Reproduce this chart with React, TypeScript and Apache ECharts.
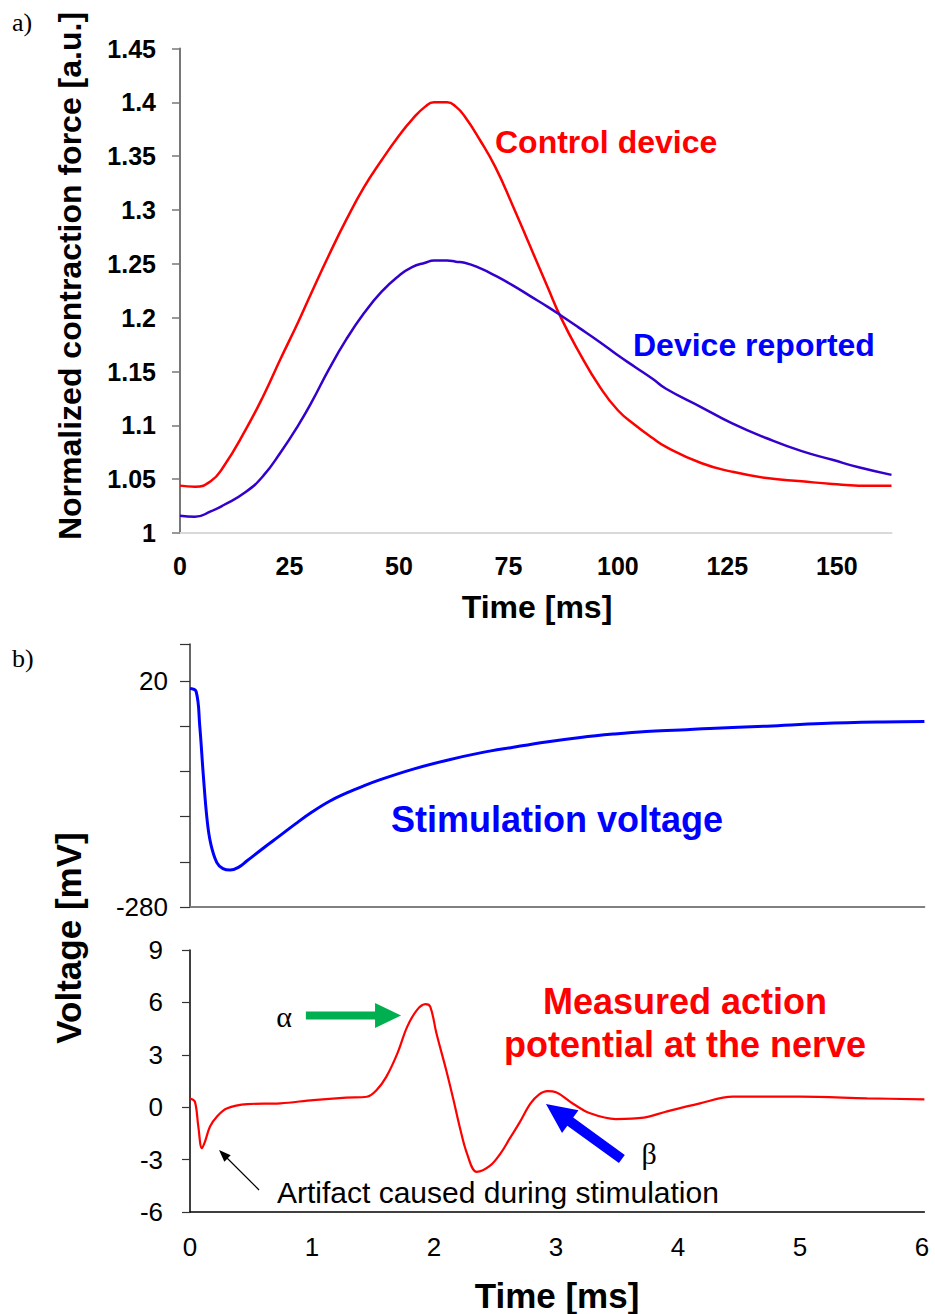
import React, { useEffect, useRef } from "react";
import * as echarts from "echarts";

// ---------- Panel a: contraction force ----------
const forceTime = [0, 3.4, 7, 10, 15, 19, 23, 27, 30, 34, 38, 42, 46, 50, 53, 56, 58, 61, 63, 65, 68.5, 72, 76, 80, 84, 87, 91, 96, 100, 104, 108, 111, 119, 126, 134, 142, 149, 155, 162.5];
const controlForce = [1.044, 1.043, 1.048, 1.062, 1.096, 1.127, 1.162, 1.196, 1.223, 1.258, 1.291, 1.321, 1.346, 1.369, 1.384, 1.396, 1.4, 1.4, 1.396, 1.387, 1.365, 1.34, 1.304, 1.266, 1.228, 1.2, 1.169, 1.135, 1.114, 1.1, 1.088, 1.08, 1.065, 1.057, 1.051, 1.048, 1.0455, 1.044, 1.044];
const deviceForce = [1.016, 1.015, 1.02, 1.026, 1.038, 1.053, 1.075, 1.1, 1.121, 1.152, 1.18, 1.204, 1.224, 1.239, 1.247, 1.251, 1.253, 1.253, 1.252, 1.251, 1.246, 1.239, 1.23, 1.22, 1.21, 1.202, 1.191, 1.177, 1.165, 1.154, 1.143, 1.134, 1.117, 1.102, 1.088, 1.076, 1.068, 1.061, 1.054];
const forceYTicks = { min: 1, max: 1.45, step: 0.05 };
const forceXTicks = { min: 0, max: 162.5, step: 25 };

// ---------- Panel b (top): stimulation voltage ----------
const stimTime = [0, 0.05, 0.08, 0.11, 0.14, 0.17, 0.22, 0.27, 0.33, 0.4, 0.465, 0.6, 0.74, 0.87, 1.0, 1.14, 1.28, 1.42, 1.56, 1.83, 2.1, 2.38, 2.65, 2.92, 3.2, 3.47, 3.74, 4.02, 4.26, 4.73, 5.18, 5.68, 6.02];
const stimVoltage = [10, 6, -40, -107, -164, -196, -221, -229, -231, -227, -219, -202, -185, -169, -154, -140, -129, -119.5, -111, -97, -85.5, -75.5, -68, -61, -55, -50.5, -47, -45, -43, -40, -36.5, -34.5, -34];
const stimYLabels = [20, -280];

// ---------- Panel b (bottom): action potential ----------
const apTime = [0, 0.04, 0.068, 0.097, 0.123, 0.164, 0.22, 0.3, 0.47, 0.74, 1.01, 1.28, 1.45, 1.53, 1.61, 1.7, 1.78, 1.86, 1.93, 1.97, 2.02, 2.1, 2.16, 2.21, 2.27, 2.35, 2.46, 2.55, 2.62, 2.7, 2.79, 2.86, 2.93, 3.0, 3.14, 3.28, 3.49, 3.72, 3.9, 4.18, 4.45, 5.0, 5.55, 6.02];
const apVoltage = [0.5, 0.32, -1.1, -2.35, -1.97, -1.1, -0.54, -0.07, 0.18, 0.22, 0.41, 0.55, 0.6, 0.98, 1.75, 3.08, 4.6, 5.56, 5.9, 5.75, 4.23, 2.13, 0.41, -1.1, -2.64, -3.7, -3.35, -2.6, -1.8, -0.9, 0.2, 0.72, 0.92, 0.86, 0.2, -0.35, -0.68, -0.6, -0.26, 0.22, 0.6, 0.6, 0.51, 0.45];

// annotation arrows (data coordinates of the bottom panel): [tail, tip]
const alphaArrow = [[0.95, 5.25], [1.73, 5.25]];
const betaArrow = [[3.54, -2.97], [2.918, 0.18]];
const artifactArrow = [[0.566, -4.74], [0.238, -2.45]];

const SANS = "'Liberation Sans', Arial, sans-serif";
const SERIF = "'Liberation Serif', 'Times New Roman', serif";

const zip = (xs: number[], ys: number[]) => xs.map((x, i) => [x, ys[i]]);

function arrowPoints(a: number[], b: number[], shaft: number, headW: number, headL: number) {
  const dx = b[0] - a[0];
  const dy = b[1] - a[1];
  const len = Math.hypot(dx, dy);
  const ux = dx / len, uy = dy / len;
  const nx = -uy, ny = ux;
  const bx = b[0] - ux * headL, by = b[1] - uy * headL;
  return [
    [a[0] + (nx * shaft) / 2, a[1] + (ny * shaft) / 2],
    [bx + (nx * shaft) / 2, by + (ny * shaft) / 2],
    [bx + (nx * headW) / 2, by + (ny * headW) / 2],
    [b[0], b[1]],
    [bx - (nx * headW) / 2, by - (ny * headW) / 2],
    [bx - (nx * shaft) / 2, by - (ny * shaft) / 2],
    [a[0] - (nx * shaft) / 2, a[1] - (ny * shaft) / 2],
  ];
}

function txt(text: string, x: number, y: number, font: string, fill: string, align = "left", rotation = 0) {
  return {
    type: "text",
    x,
    y,
    rotation,
    silent: true,
    style: {
      text,
      font,
      fill,
      textAlign: align,
      textVerticalAlign: "middle",
      align,
      verticalAlign: "middle",
    },
  };
}

export default function App() {
  const ref = useRef<HTMLDivElement>(null);

  useEffect(() => {
    document.body.style.margin = "0";
    if (!ref.current) return;
    const chart = echarts.init(ref.current, undefined, { renderer: "svg" });

    const option: any = {
      animation: false,
      backgroundColor: "#ffffff",
      grid: [
        { left: 180, top: 48.5, width: 711.5, height: 484.5, outerBoundsMode: "none", containLabel: false },
        { left: 190, top: 644, width: 734.4, height: 263, outerBoundsMode: "none", containLabel: false },
        { left: 190, top: 950, width: 734.4, height: 262, outerBoundsMode: "none", containLabel: false },
      ],
      xAxis: [
        {
          gridIndex: 0,
          type: "value",
          min: forceXTicks.min,
          max: forceXTicks.max,
          interval: forceXTicks.step,
          axisLine: { show: true, onZero: false, lineStyle: { color: "#d9d9d9", width: 2 } },
          axisTick: { show: false },
          splitLine: { show: false },
          axisLabel: {
            fontFamily: SANS,
            fontSize: 25,
            fontWeight: "bold",
            color: "#000",
            margin: 20,
            showMaxLabel: false,
            formatter: (v: number) => (v % forceXTicks.step === 0 ? String(v) : ""),
          },
        },
        {
          gridIndex: 1,
          type: "value",
          min: 0,
          max: 6.02,
          interval: 1,
          axisLine: { show: true, onZero: false, lineStyle: { color: "#808080", width: 2 } },
          axisTick: { show: false },
          splitLine: { show: false },
          axisLabel: { show: false },
        },
        {
          gridIndex: 2,
          type: "value",
          min: 0,
          max: 6.02,
          interval: 1,
          axisLine: { show: true, onZero: false, lineStyle: { color: "#000", width: 1.5 } },
          axisTick: { show: false },
          splitLine: { show: false },
          axisLabel: {
            fontFamily: SANS,
            fontSize: 26,
            color: "#000",
            margin: 22,
            formatter: (v: number) => (Number.isInteger(v) ? String(v) : ""),
          },
        },
      ],
      yAxis: [
        {
          gridIndex: 0,
          type: "value",
          min: forceYTicks.min,
          max: forceYTicks.max,
          interval: forceYTicks.step,
          axisLine: { show: true, onZero: false, lineStyle: { color: "#777", width: 2 } },
          axisTick: { show: true, length: 8, lineStyle: { color: "#777", width: 1.5 } },
          splitLine: { show: false },
          axisLabel: {
            fontFamily: SANS,
            fontSize: 25,
            fontWeight: "bold",
            color: "#000",
            margin: 24,
            formatter: (v: number) => String(Math.round(v * 100) / 100),
          },
        },
        {
          gridIndex: 1,
          type: "value",
          min: -280,
          max: 69,
          interval: 60,
          axisLine: { show: true, onZero: false, lineStyle: { color: "#333", width: 1.5 } },
          axisTick: { show: true, length: 10, lineStyle: { color: "#333", width: 1.2 } },
          splitLine: { show: false },
          axisLabel: {
            fontFamily: SANS,
            fontSize: 26,
            color: "#000",
            margin: 22,
            formatter: (v: number) => (stimYLabels.includes(Math.round(v)) ? String(Math.round(v)) : ""),
          },
        },
        {
          gridIndex: 2,
          type: "value",
          min: -6,
          max: 9,
          interval: 3,
          axisLine: { show: true, onZero: false, lineStyle: { color: "#000", width: 1.5 } },
          axisTick: { show: true, length: 8, lineStyle: { color: "#333", width: 1.2 } },
          splitLine: { show: false },
          axisLabel: { fontFamily: SANS, fontSize: 26, color: "#000", margin: 27 },
        },
      ],
      series: [
        {
          name: "Control device",
          type: "line",
          xAxisIndex: 0,
          yAxisIndex: 0,
          data: zip(forceTime, controlForce),
          showSymbol: false,
          smooth: 0.5,
          lineStyle: { color: "#ff0000", width: 2.5 },
          itemStyle: { color: "#ff0000" },
        },
        {
          name: "Device reported",
          type: "line",
          xAxisIndex: 0,
          yAxisIndex: 0,
          data: zip(forceTime, deviceForce),
          showSymbol: false,
          smooth: 0.5,
          lineStyle: { color: "#3300cc", width: 2.5 },
          itemStyle: { color: "#3300cc" },
        },
        {
          name: "Stimulation voltage",
          type: "line",
          xAxisIndex: 1,
          yAxisIndex: 1,
          data: zip(stimTime, stimVoltage),
          showSymbol: false,
          smooth: 0.4,
          lineStyle: { color: "#0000ff", width: 3 },
          itemStyle: { color: "#0000ff" },
        },
        {
          name: "Measured action potential",
          type: "line",
          xAxisIndex: 2,
          yAxisIndex: 2,
          data: zip(apTime, apVoltage),
          showSymbol: false,
          smooth: 0.35,
          lineStyle: { color: "#ff0000", width: 2.2 },
          itemStyle: { color: "#ff0000" },
        },
      ],
    };
    chart.setOption(option);

    const px = (p: number[]) => chart.convertToPixel({ xAxisIndex: 2, yAxisIndex: 2 } as any, p) as number[];
    const arrow = (arr: number[][], shaft: number, headW: number, headL: number, color: string) => ({
      type: "polygon",
      silent: true,
      shape: { points: arrowPoints(px(arr[0]), px(arr[1]), shaft, headW, headL) },
      style: { fill: color, stroke: "none" },
      z: 100,
    });

    const graphic = [
      txt("a)", 12, 22, `26px ${SERIF}`, "#000"),
      txt("b)", 12, 658, `26px ${SERIF}`, "#000"),
      txt("Normalized contraction force [a.u.]", 70, 276, `bold 32px ${SANS}`, "#000", "center", Math.PI / 2),
      txt("Time [ms]", 537, 607, `bold 32px ${SANS}`, "#000", "center"),
      txt("Control device", 495, 142, `bold 32px ${SANS}`, "#ff0000"),
      txt("Device reported", 633, 345, `bold 32px ${SANS}`, "#0000ff"),
      txt("Stimulation voltage", 391, 819, `bold 36px ${SANS}`, "#0000ff"),
      txt("Voltage [mV]", 68, 938, `bold 35px ${SANS}`, "#000", "center", Math.PI / 2),
      txt("Measured action", 685, 1001, `bold 36px ${SANS}`, "#ff0000", "center"),
      txt("potential at the nerve", 685, 1044, `bold 36px ${SANS}`, "#ff0000", "center"),
      txt("Artifact caused during stimulation", 277, 1192, `30px ${SANS}`, "#000"),
      txt("\u03b1", 284, 1016, `30px ${SERIF}`, "#000", "center"),
      txt("\u03b2", 649, 1153, `30px ${SERIF}`, "#000", "center"),
      txt("Time [ms]", 557, 1295, `bold 35px ${SANS}`, "#000", "center"),
      arrow(alphaArrow, 8, 25, 26, "#00b050"),
      arrow(betaArrow, 10, 28, 30, "#0000ff"),
      arrow(artifactArrow, 1.2, 9, 12, "#000"),
    ];
    chart.setOption({ graphic });

    return () => chart.dispose();
  }, []);

  return <div ref={ref} style={{ width: 935, height: 1314 }} />;
}
